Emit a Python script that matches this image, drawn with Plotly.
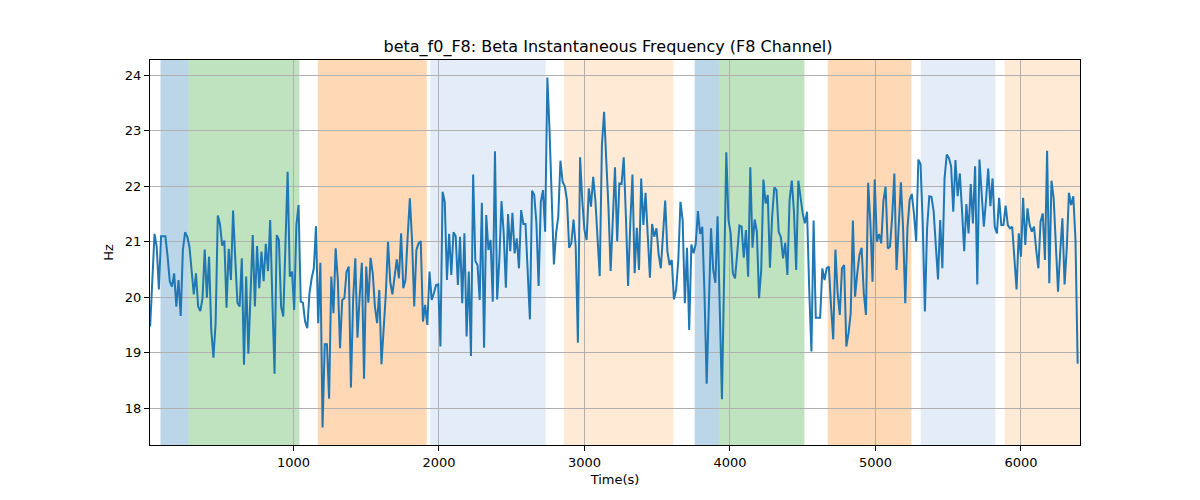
import numpy as np
import plotly.graph_objects as go

# Beta instantaneous frequency (Hz), one sample every 15 s
freq_hz = [
    # 0..60
    19.47, 20.31, 21.14, 20.91, 20.14, 21.10, 21.10, 21.10, 20.73, 20.28,
    20.19, 20.43, 19.83, 20.31, 19.66, 20.85, 21.17, 21.09, 20.91, 20.43,
    20.05, 20.43, 19.83, 19.75, 19.98, 20.86, 19.99, 20.73, 19.41, 18.91,
    19.53, 21.47, 21.32, 20.93, 21.02, 19.81, 20.87, 20.31, 21.56, 20.69,
    19.90, 19.83, 20.70, 18.78, 20.37, 18.98, 20.07, 21.12, 19.83, 20.92,
    20.16, 20.82, 20.29, 20.96, 20.47, 21.39, 19.95, 18.62, 21.12, 21.03,
    19.83,
    # 61..122
    19.65, 20.95, 22.26, 20.37, 20.46, 19.77, 21.30, 21.66, 19.92, 19.90,
    19.56, 19.44, 20.07, 20.34, 20.52, 21.28, 19.53, 20.62, 17.65, 19.15,
    19.15, 18.17, 20.37, 19.71, 20.88, 20.31, 19.08, 19.95, 19.98, 20.46,
    20.55, 18.37, 19.95, 20.70, 19.27, 20.01, 20.62, 18.53, 20.55, 19.90,
    20.71, 20.43, 19.83, 19.53, 20.13, 18.79, 19.41, 20.07, 21.00, 20.28,
    20.05, 20.43, 20.68, 20.34, 21.15, 20.16, 20.31, 21.09, 21.78, 21.03,
    19.83, 20.85,
    # 123..184
    20.97, 21.01, 19.56, 19.86, 19.50, 20.46, 19.95, 20.07, 20.22, 20.23,
    19.11, 21.90, 21.72, 20.31, 21.14, 20.40, 21.17, 21.10, 20.22, 21.09,
    19.89, 21.15, 19.29, 20.46, 18.94, 22.21, 20.65, 20.58, 19.95, 21.70,
    19.09, 21.48, 20.85, 21.03, 19.92, 22.63, 19.96, 20.67, 21.73, 21.15,
    20.17, 21.50, 20.83, 21.52, 20.79, 21.06, 20.52, 21.57, 21.32, 21.32,
    20.43, 19.60, 21.92, 21.84, 21.33, 20.20, 21.72, 21.93, 21.18, 23.96,
    23.01,
    # 185..246
    21.69, 20.59, 21.15, 21.45, 22.46, 22.08, 22.00, 21.75, 20.89, 20.97,
    21.40, 20.91, 19.18, 22.52, 21.75, 21.21, 21.03, 21.96, 21.63, 22.17,
    21.75, 21.15, 20.38, 22.74, 23.34, 22.47, 21.63, 20.47, 21.39, 22.34,
    21.01, 22.05, 22.04, 22.52, 21.45, 20.20, 21.33, 22.21, 20.43, 21.25,
    20.49, 22.14, 21.30, 21.88, 21.12, 20.35, 21.32, 21.09, 21.24, 20.77,
    20.52, 21.21, 21.74, 20.83, 20.58, 20.67, 19.96, 20.13, 20.67, 21.72,
    21.39, 19.89,
    # 247..308
    20.89, 19.41, 20.95, 20.79, 20.96, 21.55, 21.14, 21.27, 20.07, 18.44,
    19.95, 21.24, 20.49, 20.26, 21.46, 19.47, 18.16, 20.37, 22.61, 21.39,
    21.15, 20.43, 20.34, 20.79, 21.29, 21.27, 20.71, 21.21, 20.37, 22.34,
    20.89, 21.40, 21.18, 19.98, 20.49, 22.12, 21.69, 21.84, 20.53, 21.45,
    21.98, 21.93, 21.18, 21.08, 20.70, 20.98, 20.40, 21.75, 22.10, 21.54,
    20.49, 22.10, 21.75, 21.51, 21.33, 21.54, 20.13, 19.02, 21.38, 19.63,
    19.63, 19.63,
    # 309..369
    20.52, 20.31, 20.52, 20.55, 19.83, 19.24, 20.86, 20.07, 19.68, 20.52,
    20.58, 19.11, 19.35, 19.71, 21.38, 20.01, 20.43, 20.76, 20.89, 20.07,
    19.68, 22.06, 21.36, 20.28, 22.12, 21.00, 21.14, 20.97, 21.74, 21.99,
    20.88, 20.91, 21.45, 22.23, 20.49, 21.39, 22.07, 21.24, 19.89, 21.24,
    21.75, 21.86, 21.50, 21.00, 22.48, 22.40, 21.33, 19.74, 21.24, 21.82,
    21.81, 21.55, 20.88, 20.32, 21.39, 20.52, 22.14, 22.57, 22.51, 22.36,
    21.54,
    # 370..
    22.47, 21.82, 22.23, 21.57, 20.83, 21.68, 21.15, 22.04, 21.33, 22.36,
    20.23, 22.48, 21.87, 21.27, 21.75, 22.32, 21.64, 22.14, 21.27, 21.15,
    21.79, 21.30, 21.30, 21.65, 21.30, 21.24, 21.27, 20.67, 20.14, 21.15,
    20.73, 21.79, 20.94, 21.60, 21.30, 21.18, 21.27, 20.85, 20.52, 21.36,
    21.51, 20.67, 22.64, 20.25, 22.10, 21.78, 20.85, 20.10, 20.82, 21.42,
    20.23, 20.88, 21.88, 21.66, 21.82, 21.03, 18.80,
]
sample_step_s = 15
time_s = [sample_step_s * (i + 1) for i in range(len(freq_hz))]

# Shaded segments (start s, end s, colour)
band_start = [86, 278, 1167, 1941, 2858, 3758, 3925, 4672, 5311, 5889]
band_end = [278, 1041, 1916, 2734, 3612, 3925, 4512, 5247, 5825, 6420]
band_color = [
    "rgba(31,119,180,0.3)", "rgba(44,160,44,0.3)", "rgba(255,127,14,0.3)",
    "rgba(174,199,232,0.33)", "rgba(255,187,120,0.3)",
    "rgba(31,119,180,0.3)", "rgba(44,160,44,0.3)", "rgba(255,127,14,0.3)",
    "rgba(174,199,232,0.33)", "rgba(255,187,120,0.3)",
]

x_ticks = [1000, 2000, 3000, 4000, 5000, 6000]
y_ticks = [18, 19, 20, 21, 22, 23, 24]

fig = go.Figure()
fig.add_trace(go.Scatter(
    x=time_s, y=freq_hz, mode="lines",
    line=dict(color="#1f77b4", width=2), showlegend=False,
))

for s, e, c in zip(band_start, band_end, band_color):
    fig.add_shape(type="rect", xref="x", yref="paper", x0=s, x1=e, y0=0, y1=1,
                  fillcolor=c, line=dict(width=0), layer="below")

ymin, ymax = min(freq_hz), max(freq_hz)
pad = 0.05 * (ymax - ymin)

axis_common = dict(
    showline=True, linecolor="black", linewidth=1, mirror=True,
    ticks="outside", ticklen=5, tickwidth=1, tickcolor="black",
    showgrid=True, gridcolor="#b0b0b0", gridwidth=1, zeroline=False,
    tickfont=dict(family="DejaVu Sans", size=13, color="black"),
)

fig.update_layout(
    width=1200, height=500,
    margin=dict(l=142, r=128, t=52, b=63),
    paper_bgcolor="white", plot_bgcolor="white",
    title=dict(text="beta_f0_F8: Beta Instantaneous Frequency (F8 Channel)",
               x=0.5, xanchor="center", y=0.924, yanchor="middle",
               font=dict(family="DejaVu Sans", size=16, color="black")),
    xaxis=dict(range=[14, 6406], tickvals=x_ticks,
               title=dict(text="Time(s)", standoff=6,
                          font=dict(family="DejaVu Sans", size=13, color="black")),
               **axis_common),
    yaxis=dict(range=[ymin - pad, ymax + pad], tickvals=y_ticks,
               title=dict(text="Hz", standoff=8,
                          font=dict(family="DejaVu Sans", size=13, color="black")),
               **axis_common),
)

fig.write_html("out.html")
